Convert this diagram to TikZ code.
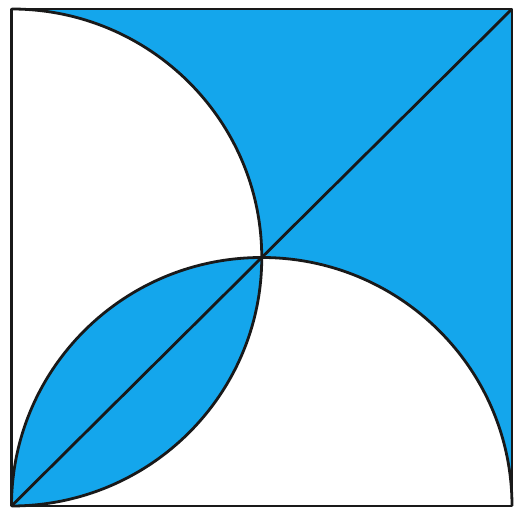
\documentclass[tikz,border=0pt]{standalone}
\definecolor{skyb}{HTML}{14A6EC}
\begin{document}
\begin{tikzpicture}[x=1pt,y=1pt,line join=round,
  edge/.style={draw=black!90,line width=2.8pt}]
\useasboundingbox (0,0) rectangle (517,510);
\coordinate (A) at (11.5,4);
\coordinate (B) at (512,4);
\coordinate (C) at (512,501);
\coordinate (D) at (11.5,501);
\coordinate (L) at (11.5,252.5);
\coordinate (M) at (261.75,4);
\begin{scope}
  \clip (A) rectangle (C);
  \fill[skyb,even odd rule] (A) rectangle (C)
    (L) ellipse [x radius=250.25, y radius=248.5]
    (M) ellipse [x radius=250.25, y radius=248.5];
\end{scope}
\draw[edge] (D) arc[start angle=90,end angle=-90,x radius=250.25,y radius=248.5];
\draw[edge] (A) arc[start angle=180,end angle=0,x radius=250.25,y radius=248.5];
\draw[edge] (A) -- (C);
\draw[edge] (A) rectangle (C);
\end{tikzpicture}
\end{document}
